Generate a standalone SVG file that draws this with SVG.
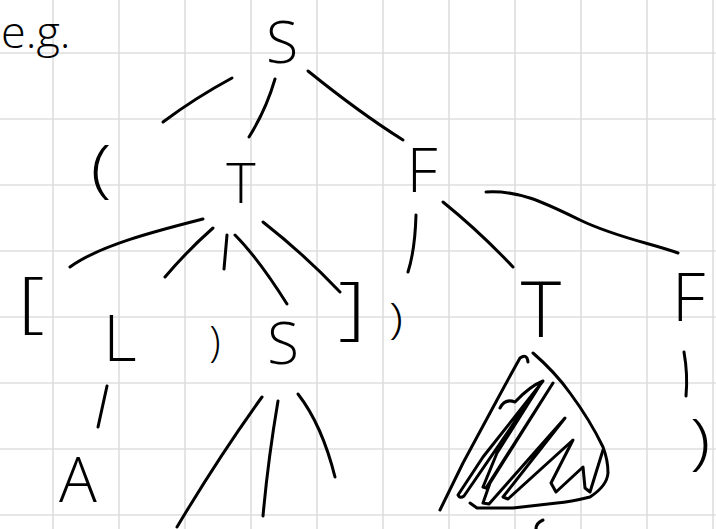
<svg xmlns="http://www.w3.org/2000/svg" width="716" height="529" viewBox="0 0 716 529">
<defs>
<style>
.grid line{stroke:#dedede;stroke-width:1.6}
.ink{fill:none;stroke:#000;stroke-width:3;stroke-linecap:round;stroke-linejoin:round}
.t{font-family:"Open Sans","Liberation Sans",sans-serif;font-weight:300;fill:#000;text-anchor:middle}
</style>
</defs>
<rect width="716" height="529" fill="#fff"/>
<g class="grid">
<line x1="53" y1="0" x2="53" y2="529"/><line x1="119" y1="0" x2="119" y2="529"/><line x1="185" y1="0" x2="185" y2="529"/><line x1="251" y1="0" x2="251" y2="529"/><line x1="317" y1="0" x2="317" y2="529"/><line x1="383" y1="0" x2="383" y2="529"/><line x1="449" y1="0" x2="449" y2="529"/><line x1="515" y1="0" x2="515" y2="529"/><line x1="581" y1="0" x2="581" y2="529"/><line x1="647" y1="0" x2="647" y2="529"/><line x1="713" y1="0" x2="713" y2="529"/>
<line x1="0" y1="53" x2="716" y2="53"/><line x1="0" y1="119" x2="716" y2="119"/><line x1="0" y1="185" x2="716" y2="185"/><line x1="0" y1="251" x2="716" y2="251"/><line x1="0" y1="317" x2="716" y2="317"/><line x1="0" y1="383" x2="716" y2="383"/><line x1="0" y1="449" x2="716" y2="449"/><line x1="0" y1="515" x2="716" y2="515"/>
</g>
<g id="label-eg"><text class="t" x="1" y="48" font-size="45" style="text-anchor:start">e.g.</text></g>
<g id="n-S"><text class="t" x="282" y="63" font-size="59">S</text></g>
<g id="n-lparen"><text class="t" x="101" y="190" font-size="62" transform="translate(101,0) scale(1.25,1) translate(-101,0)">(</text></g>
<g id="n-T1"><text class="t" x="241" y="203" font-size="56">T</text></g>
<g id="n-F1"><text class="t" x="422" y="192" font-size="61">F</text></g>
<g id="n-lbrack"><text class="t" x="31" y="325" font-size="67" transform="translate(31,0) scale(1.25,1) translate(-31,0)">[</text></g>
<g id="n-L"><text class="t" x="120" y="361" font-size="65">L</text></g>
<g id="n-comma"><text class="t" x="215" y="356" font-size="42">)</text></g>
<g id="n-S2"><text class="t" x="283" y="364" font-size="58">S</text></g>
<g id="n-rbrack"><text class="t" x="352" y="331" font-size="69" transform="translate(352,0) scale(1.25,1) translate(-352,0)">]</text></g>
<g id="n-rparen1"><text class="t" x="396" y="333" font-size="43" transform="translate(396,0) scale(1.2,1) translate(-396,0)">)</text></g>
<g id="n-T2"><text class="t" x="541" y="337" font-size="77">T</text></g>
<g id="n-F2"><text class="t" x="672" y="321" font-size="66" style="text-anchor:start">F</text></g>
<g id="n-A"><text class="t" x="78" y="502" font-size="63">A</text></g>
<g id="n-rparen2"><text class="t" x="700" y="463" font-size="61" transform="translate(700,0) scale(1.25,1) translate(-700,0)">)</text></g>
<g id="n-subtree">
<path class="ink" d="M528,362 Q527,353 520,358 Q505,385 497,400 L463,463 L440,510"/>
<path class="ink" d="M533,353 Q555,372 570,393 Q590,420 603,447 Q608,460 608,473 Q607,486 590,497 Q570,502 557,503 L513,508 L477,508 L470,503"/>
<path class="ink" d="M500,408 Q505,398 515,402 Q530,386 543,381 L483,457 L458,495 Q460,499 464,496 L540,385 L497,453 L483,487 L486,488 L553,383 L490,483 L483,503 L489,504 L565,418 L503,497 L508,499 L573,440 L551,483 L556,492 L583,467 L585,488 L590,492 L603,450"/>
<path class="ink" d="M543,520 Q536,523 536,529"/>
</g>
<g id="connectors">
<path class="ink" d="M163,122 Q195,98 232,78"/>
<path class="ink" d="M275,79 Q266,110 249,137"/>
<path class="ink" d="M308,71 Q360,113 403,140"/>
<path class="ink" d="M203,219 C160,230 100,245 70,267"/>
<path class="ink" d="M213,228 Q188,250 165,277"/>
<path class="ink" d="M227,235 L224,269"/>
<path class="ink" d="M235,235 Q258,258 287,304"/>
<path class="ink" d="M263,222 Q305,255 340,292"/>
<path class="ink" d="M416,215 Q415,250 408,272"/>
<path class="ink" d="M443,202 Q480,232 513,267"/>
<path class="ink" d="M486,192 C520,190 545,203 580,220 S650,243 678,253"/>
<path class="ink" d="M107,386 L98,427"/>
<path class="ink" d="M262,397 Q220,455 177,527"/>
<path class="ink" d="M278,401 Q268,460 263,516"/>
<path class="ink" d="M298,394 Q322,425 335,477"/>
<path class="ink" d="M684,352 Q688,375 686,396"/>
</g>
</svg>
